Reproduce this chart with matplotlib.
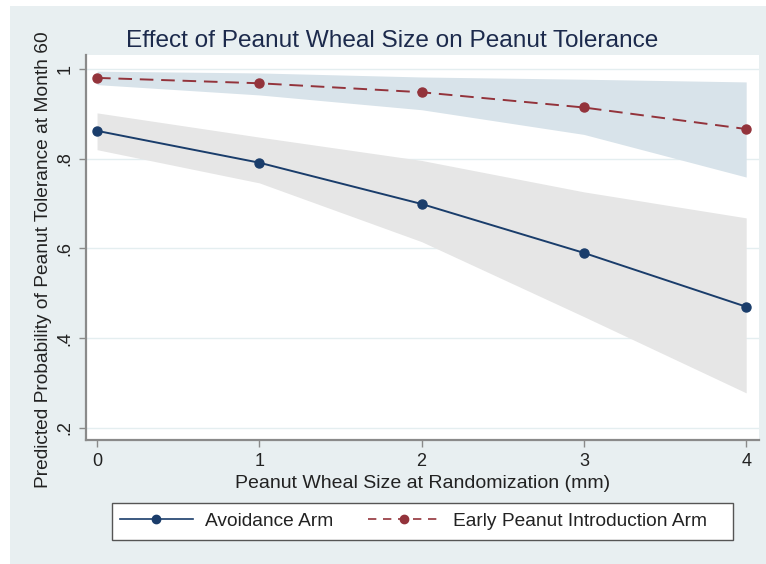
import matplotlib
matplotlib.use('Agg')
import matplotlib.pyplot as plt
from matplotlib.patches import Rectangle
from matplotlib.lines import Line2D

# Datos
tamano_roncha = [0, 1, 2, 3, 4]

evitacion = [0.862, 0.791, 0.699, 0.590, 0.470]
evitacion_sup = [0.902, 0.848, 0.796, 0.726, 0.668]
evitacion_inf = [0.820, 0.746, 0.615, 0.448, 0.278]

introduccion = [0.980, 0.968, 0.948, 0.914, 0.866]
introduccion_sup = [0.995, 0.991, 0.982, 0.977, 0.971]
introduccion_inf = [0.965, 0.942, 0.909, 0.854, 0.759]

ticks_y = [0.2, 0.4, 0.6, 0.8, 1.0]
etiquetas_y = ['.2', '.4', '.6', '.8', '1']

plt.rcParams['font.family'] = ['Liberation Sans', 'DejaVu Sans']

azul = '#1a3d6b'
granate = '#93333b'
fondo = '#e8eff1'

fig = plt.figure(figsize=(7.66, 5.64), dpi=100)
fig.patch.set_facecolor('white')
fig.patches.append(Rectangle((10 / 766, 0), 1 - 10 / 766, 1 - 6 / 564,
                             transform=fig.transFigure, facecolor=fondo,
                             edgecolor='none', zorder=-10))

ax = fig.add_axes([86 / 766, 1 - 440 / 564, (759 - 86) / 766, (440 - 55) / 564])
ax.set_facecolor('white')

ax.fill_between(tamano_roncha, evitacion_inf, evitacion_sup, color='#e6e6e6',
                linewidth=0, zorder=1)
ax.fill_between(tamano_roncha, introduccion_inf, introduccion_sup, color='#d8e3ea',
                linewidth=0, zorder=1)

ax.plot(tamano_roncha, evitacion, color=azul, lw=1.4, marker='o', ms=6.5, zorder=3)
ax.plot(tamano_roncha, introduccion, color=granate, lw=1.4, marker='o', ms=6.5,
        dashes=(7, 4), zorder=3)

ax.set_xlim(-0.068, 4.079)
ax.set_ylim(0.173, 1.031)
ax.set_xticks(tamano_roncha)
ax.set_xticklabels([str(v) for v in tamano_roncha], fontsize=13, color='#222222')
ax.set_yticks(ticks_y)
ax.set_yticklabels(etiquetas_y, fontsize=13, color='#222222', rotation=90,
                   va='center')
ax.grid(axis='y', color='#e4eef0', lw=1)
ax.set_axisbelow(True)

for lado in ['top', 'right']:
    ax.spines[lado].set_visible(False)
for lado in ['left', 'bottom']:
    ax.spines[lado].set_color('#8a8a8a')
    ax.spines[lado].set_linewidth(1.6)
ax.tick_params(length=5, width=1, color='#8a8a8a', pad=4)

ax.set_xlabel('Peanut Wheal Size at Randomization (mm)', fontsize=14, color='#222222',
              labelpad=4)
ax.set_ylabel('Predicted Probability of Peanut Tolerance at Month 60', fontsize=13.8,
              color='#222222')
ax.yaxis.set_label_coords(-0.050, 0.468)

fig.text(392 / 766, 1 - 41 / 564, 'Effect of Peanut Wheal Size on Peanut Tolerance',
         ha='center', va='center', fontsize=17.6, color='#1c2a4c')

# caja de la leyenda dibujada aparte, como en Stata
fig.patches.append(Rectangle((112 / 766, 1 - 540 / 564), (733 - 112) / 766, 37 / 564,
                             transform=fig.transFigure, facecolor='white',
                             edgecolor='#555555', lw=1, zorder=-5))
manijas = [Line2D([], [], color=azul, lw=1.2, marker='o', ms=6),
           Line2D([], [], color=granate, lw=1.2, marker='o', ms=6, dashes=(5, 4))]
leyenda = fig.legend(manijas, ['Avoidance Arm', 'Early Peanut Introduction Arm'],
                     loc='center left', bbox_to_anchor=(120 / 766, 1 - 521 / 564), ncol=2,
                     fontsize=13.8, frameon=False, handlelength=3.8,
                     columnspacing=1.8, borderpad=0, borderaxespad=0,
                     handletextpad=0.65)
for t in leyenda.get_texts():
    t.set_color('#222222')

fig.savefig('out.png', dpi=100, facecolor=fig.get_facecolor())
